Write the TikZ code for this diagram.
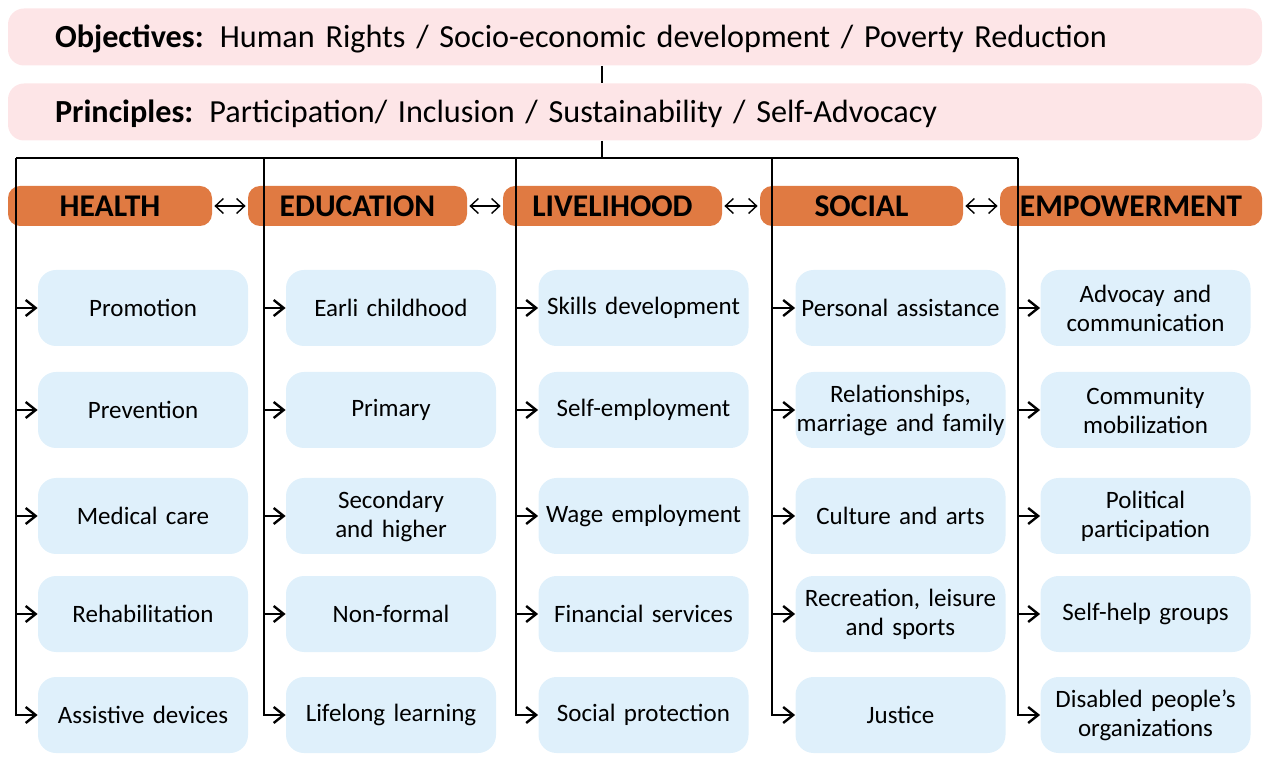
\documentclass[tikz,border=0pt]{standalone}
\usepackage{fontspec}
\setmainfont{Carlito}
\usetikzlibrary{arrows.meta,positioning}
\definecolor{goalpink}{HTML}{FDE5E7}
\definecolor{pillarorange}{HTML}{E07A42}
\definecolor{itemblue}{HTML}{DFF0FB}

\begin{document}
\begin{tikzpicture}[
    x=0.5pt, y=-0.5pt,
    band/.style={rectangle, rounded corners=8pt, fill=goalpink,
                 minimum width=627pt, minimum height=28.5pt, inner xsep=23.5pt,
                 text width=580pt, align=left, text height=12pt, text depth=1pt,
                 font=\fontsize{16.1}{19}\selectfont},
    pillar/.style={rectangle, rounded corners=6pt, fill=pillarorange,
                   minimum height=20pt, inner sep=0pt,
                   font=\fontsize{15.8}{18}\selectfont\bfseries},
    item/.style={rectangle, rounded corners=9pt, fill=itemblue,
                 minimum width=105pt, minimum height=38pt, inner xsep=0pt,
                 inner ysep=2pt, text width=105pt, align=center,
                 font=\fontsize{12.5}{14.5}\selectfont},
    line/.style={line width=1.2pt},
    arr/.style={line width=1.2pt, -{Straight Barb[length=5pt,width=8pt]}},
    link/.style={line width=0.7pt,
                 {Straight Barb[length=4pt,width=7.5pt]}-{Straight Barb[length=4pt,width=7.5pt]},
                 shorten <=1pt, shorten >=1pt}
  ]
  \useasboundingbox (0,0) rectangle (1263,758);

  % ---- Objectives and principles ----
  \node[band] (obj) at (635,37)
    {\textbf{Objectives:} Human Rights / Socio-economic development / Poverty Reduction};
  \node[band] (prin) at (635,112)
    {\textbf{Principles:} Participation/ Inclusion / Sustainability / Self-Advocacy};

  % ---- Trunk and bus ----
  \coordinate (tr) at (602,158);
  \coordinate (bh) at (16,158);
  \coordinate (be) at (264,158);
  \coordinate (bl) at (516,158);
  \coordinate (bs) at (772,158);
  \coordinate (bm) at (1018,158);
  \draw[line] (obj.south -| tr) -- (prin.north -| tr);
  \draw[line] (prin.south -| tr) -- (tr);
  \draw[line] (bh) -- (bm);

  % ---- Pillars ----
  \node[pillar, minimum width=102pt] (health) at (110,206) {HEALTH};
  \node[pillar, minimum width=109.5pt] (edu) at (357.5,206) {EDUCATION};
  \node[pillar, minimum width=109.5pt] (live) at (612.5,206) {LIVELIHOOD};
  \node[pillar, minimum width=101.5pt] (soc) at (861.5,206) {SOCIAL};
  \node[pillar, minimum width=131pt] (emp) at (1131,206) {EMPOWERMENT};
  \draw[link] (health) -- (edu);
  \draw[link] (edu) -- (live);
  \draw[link] (live) -- (soc);
  \draw[link] (soc) -- (emp);

  % ---- Health ----
  \foreach \t/\y [count=\i] in {Promotion/308, Prevention/410, Medical care/516,
      Rehabilitation/614, Assistive devices/715}
    \node[item] (h\i) at (143,\y) {\t};
  \foreach \i in {1,...,4}
    \draw[arr] (bh |- h\i.west) -- (h\i.west);
  \draw[arr] (bh) |- (h5.west);

  % ---- Education ----
  \foreach \t/\y [count=\i] in {Earli childhood/308, Primary/410,
      {Secondary\\and higher}/516, Non-formal/614, Lifelong learning/715}
    \node[item] (e\i) at (391,\y) {\t};
  \foreach \i in {1,...,4}
    \draw[arr] (be |- e\i.west) -- (e\i.west);
  \draw[arr] (be) |- (e5.west);

  % ---- Livelihood ----
  \foreach \t/\y [count=\i] in {Skills development/308, Self-employment/410,
      Wage employment/516, Financial services/614, Social protection/715}
    \node[item] (l\i) at (643.5,\y) {\t};
  \foreach \i in {1,...,4}
    \draw[arr] (bl |- l\i.west) -- (l\i.west);
  \draw[arr] (bl) |- (l5.west);

  % ---- Social ----
  \foreach \t/\y [count=\i] in {Personal assistance/308,
      {Relationships,\\marriage and family}/410, Culture and arts/516,
      {Recreation, leisure\\and sports}/614, Justice/715}
    \node[item] (s\i) at (900.5,\y) {\t};
  \foreach \i in {1,...,4}
    \draw[arr] (bs |- s\i.west) -- (s\i.west);
  \draw[arr] (bs) |- (s5.west);

  % ---- Empowerment ----
  \foreach \t/\y [count=\i] in {{Advocay and\\communication}/308,
      {Community\\mobilization}/410, {Political\\participation}/516,
      Self-help groups/614, {Disabled people’s\\organizations}/715}
    \node[item] (m\i) at (1145.5,\y) {\t};
  \foreach \i in {1,...,4}
    \draw[arr] (bm |- m\i.west) -- (m\i.west);
  \draw[arr] (bm) |- (m5.west);

\end{tikzpicture}
\end{document}
